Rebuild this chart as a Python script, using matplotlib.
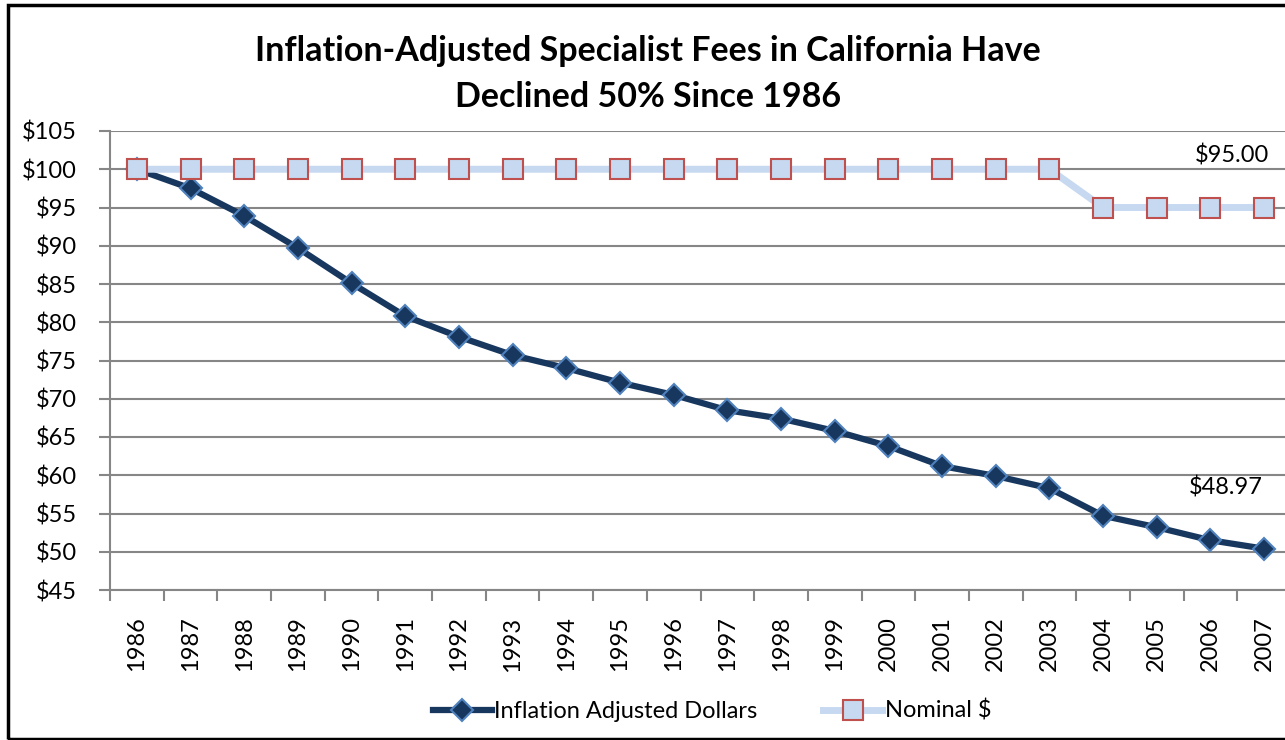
import matplotlib
matplotlib.use("Agg")
import matplotlib.pyplot as plt
from matplotlib.lines import Line2D
from matplotlib.patches import Rectangle
import numpy as np

years = [str(y) for y in range(1986, 2008)]
inflation_adjusted = [100.0, 97.5, 93.9, 89.7, 85.1, 80.8, 78.1, 75.7, 74.0, 72.1, 70.5,
                      68.5, 67.4, 65.8, 63.8, 61.2, 59.9, 58.3, 54.7, 53.2, 51.5, 50.4]
nominal = [100] * 18 + [95] * 4
y_ticks = list(range(45, 106, 5))
title = "Inflation-Adjusted Specialist Fees in California Have\nDeclined 50% Since 1986"
label_nominal = "$95.00"
label_adjusted = "$48.97"

plt.rcParams['font.family'] = ['Lato', 'DejaVu Sans']

fig = plt.figure(figsize=(12.85, 7.40), dpi=100)
W, H = 1285, 740
ax = fig.add_axes([110 / W, 1 - 590 / H, 1181 / W, 459 / H])

FS = 17
x = np.arange(len(years))
ax.plot(x, inflation_adjusted, color='#17375e', lw=4.5, marker='D', ms=11,
        mfc='#17375e', mec='#4f81bd', mew=1.5, zorder=4,
        label='Inflation Adjusted Dollars', solid_joinstyle='round')
ax.plot(x, nominal, color='#c6d9f1', lw=5, marker='s', ms=15,
        mfc='#c6d9f1', mec='#c0504d', mew=1.5, zorder=5, label='Nominal $',
        solid_joinstyle='round')

ax.set_xlim(-0.5, len(years) - 0.5)
ax.set_ylim(45, 105)
ax.set_yticks(y_ticks)
ax.set_yticklabels([f"${v}" for v in y_ticks], fontsize=FS)
ax.set_xticks(x)
ax.set_xticklabels(years, rotation=90, fontsize=FS)
ax.set_xticks(np.arange(-0.5, len(years) - 0.4, 1), minor=True)
ax.tick_params(axis='x', which='major', length=0, pad=19)
ax.tick_params(axis='x', which='minor', length=8, color='#868686', width=1.5)
ax.tick_params(axis='y', length=8, color='#868686', width=1.5, pad=16)
ax.grid(axis='y', color='#868686', lw=1.5)
ax.set_axisbelow(True)
for s in ['top', 'right']:
    ax.spines[s].set_visible(False)
for s in ['left', 'bottom']:
    ax.spines[s].set_color('#868686')
    ax.spines[s].set_linewidth(1.5)

ax.text(20.4, 100.4, label_nominal, fontsize=FS, ha='center', va='bottom')
ax.text(20.28, 57.0, label_adjusted, fontsize=FS, ha='center', va='bottom')

fig.text(648 / W, 1 - 74 / H, title, fontsize=24.5, fontweight='bold',
         ha='center', va='center', linespacing=1.55)

h1 = Line2D([], [], color='#17375e', lw=4.5, marker='D', ms=11,
            mfc='#17375e', mec='#4f81bd', mew=1.5)
h2 = Line2D([], [], color='#c6d9f1', lw=5, marker='s', ms=15,
            mfc='#c6d9f1', mec='#c0504d', mew=1.5)
fig.legend([h1, h2], ['Inflation Adjusted Dollars', 'Nominal $'],
           loc='center', bbox_to_anchor=(712 / W, 1 - 711 / H), ncol=2,
           frameon=False, fontsize=FS, handlelength=2.5, handletextpad=0.1,
           columnspacing=2.8)

fig.patches.append(Rectangle((8 / W, 1 - 739 / H), 1.1, 734 / H,
                             transform=fig.transFigure, fill=False,
                             edgecolor='black', lw=2.5))

fig.savefig("out.png", dpi=100, facecolor='white')
